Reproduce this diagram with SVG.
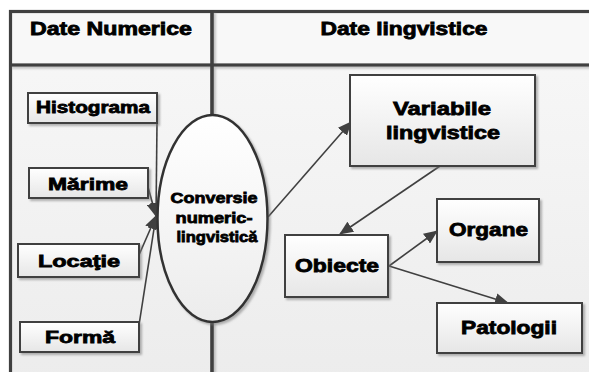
<svg xmlns="http://www.w3.org/2000/svg" width="589" height="372" viewBox="0 0 589 372">
<style>
text{font-family:"Liberation Sans",Arial,sans-serif;font-weight:bold;fill:#000;stroke:#000;stroke-width:0.8;text-anchor:middle}
.box{fill:url(#gBox);stroke:#404040;stroke-width:2;filter:url(#sh)}
.frame{fill:none;stroke:#404040;stroke-width:3.2}
.bar{fill:#404040}
.edge{fill:none;stroke:#404040;stroke-width:1.6;marker-end:url(#ah)}
</style>
<defs>
<linearGradient id="gBg" x1="0" y1="0" x2="0" y2="1"><stop offset="0" stop-color="#f8f8f8"/><stop offset="1" stop-color="#ececec"/></linearGradient>
<linearGradient id="gBox" x1="0" y1="0" x2="0" y2="1"><stop offset="0" stop-color="#ffffff"/><stop offset="1" stop-color="#e6e6e6"/></linearGradient>
<linearGradient id="gEl" x1="0" y1="0" x2="0" y2="1"><stop offset="0" stop-color="#ffffff"/><stop offset="1" stop-color="#ececec"/></linearGradient>
<filter id="sh" x="-20%" y="-20%" width="140%" height="140%"><feDropShadow dx="2" dy="2" stdDeviation="1.2" flood-color="#777" flood-opacity="0.55"/></filter>
<filter id="shb" filterUnits="userSpaceOnUse" x="0" y="0" width="589" height="372"><feDropShadow dx="2" dy="2" stdDeviation="1.2" flood-color="#888" flood-opacity="0.5"/></filter>
<marker id="ah" markerUnits="userSpaceOnUse" markerWidth="14" markerHeight="12" viewBox="0 0 14 12" refX="13" refY="6" orient="auto"><path d="M0,0 L14,6 L0,12 Z" fill="#404040"/></marker>
</defs>
<rect x="0" y="0" width="589" height="372" fill="#ffffff"/>
<g id="frame">
<rect x="10.5" y="11.5" width="600" height="380" fill="url(#gBg)"/>
<rect x="12" y="13" width="598" height="51" fill="#f8f8f8"/>
<rect x="10.5" y="11.5" width="600" height="380" class="frame"/>
<g filter="url(#shb)">
<rect class="bar" x="10" y="63.4" width="580" height="3.2"/>
<rect class="bar" x="210.2" y="11" width="3.6" height="105"/>
<rect class="bar" x="210.2" y="321" width="3.6" height="52"/>
</g>
<text x="111" y="35" font-size="18" textLength="162" lengthAdjust="spacingAndGlyphs">Date Numerice</text>
<text x="404" y="35" font-size="18" textLength="167" lengthAdjust="spacingAndGlyphs">Date lingvistice</text>
</g>
<g id="connectors">
<path class="edge" d="M157,123 L156,216"/>
<path class="edge" d="M148,187 L156,216"/>
<path class="edge" d="M139,255 L156,216"/>
<path class="edge" d="M139,325 L156,216"/>
<path class="edge" d="M268,217 L351,122"/>
<path class="edge" d="M440,166 L340,234"/>
<path class="edge" d="M389,266 L437,231"/>
<path class="edge" d="M389,266 L508,303"/>
</g>
<g id="histograma"><rect class="box" x="28" y="93" width="129" height="30"/><text x="93" y="113" font-size="16" textLength="114" lengthAdjust="spacingAndGlyphs">Histograma</text></g>
<g id="marime"><rect class="box" x="29" y="168" width="119" height="30"/><text x="88" y="190" font-size="17" textLength="80" lengthAdjust="spacingAndGlyphs">Mărime</text></g>
<g id="locatie"><rect class="box" x="18" y="244" width="121" height="33"/><text x="79" y="267" font-size="17" textLength="82" lengthAdjust="spacingAndGlyphs">Locaţie</text></g>
<g id="forma"><rect class="box" x="20" y="322" width="119" height="30"/><text x="80" y="343" font-size="17" textLength="70" lengthAdjust="spacingAndGlyphs">Formă</text></g>
<g id="conversie">
<ellipse cx="212.5" cy="218.5" rx="55" ry="103.5" fill="url(#gEl)" stroke="#333" stroke-width="2.5" filter="url(#sh)"/>
<text x="214" y="203" font-size="15" textLength="87" lengthAdjust="spacingAndGlyphs">Conversie</text>
<text x="214" y="223" font-size="15" textLength="77" lengthAdjust="spacingAndGlyphs">numeric-</text>
<text x="217" y="242" font-size="15" textLength="81" lengthAdjust="spacingAndGlyphs">lingvistică</text>
</g>
<g id="variabile"><rect class="box" x="350" y="75" width="185" height="91"/>
<text x="442" y="115" font-size="18" textLength="98" lengthAdjust="spacingAndGlyphs">Variabile</text>
<text x="443" y="139" font-size="18" textLength="114" lengthAdjust="spacingAndGlyphs">lingvistice</text></g>
<g id="obiecte"><rect class="box" x="285" y="235" width="103" height="62"/><text x="337" y="272" font-size="18" textLength="84" lengthAdjust="spacingAndGlyphs">Obiecte</text></g>
<g id="organe"><rect class="box" x="437" y="199" width="102" height="63"/><text x="488.5" y="236" font-size="18" textLength="79" lengthAdjust="spacingAndGlyphs">Organe</text></g>
<g id="patologii"><rect class="box" x="437" y="303" width="145" height="50"/><text x="509" y="334" font-size="18" textLength="96" lengthAdjust="spacingAndGlyphs">Patologii</text></g>
</svg>
